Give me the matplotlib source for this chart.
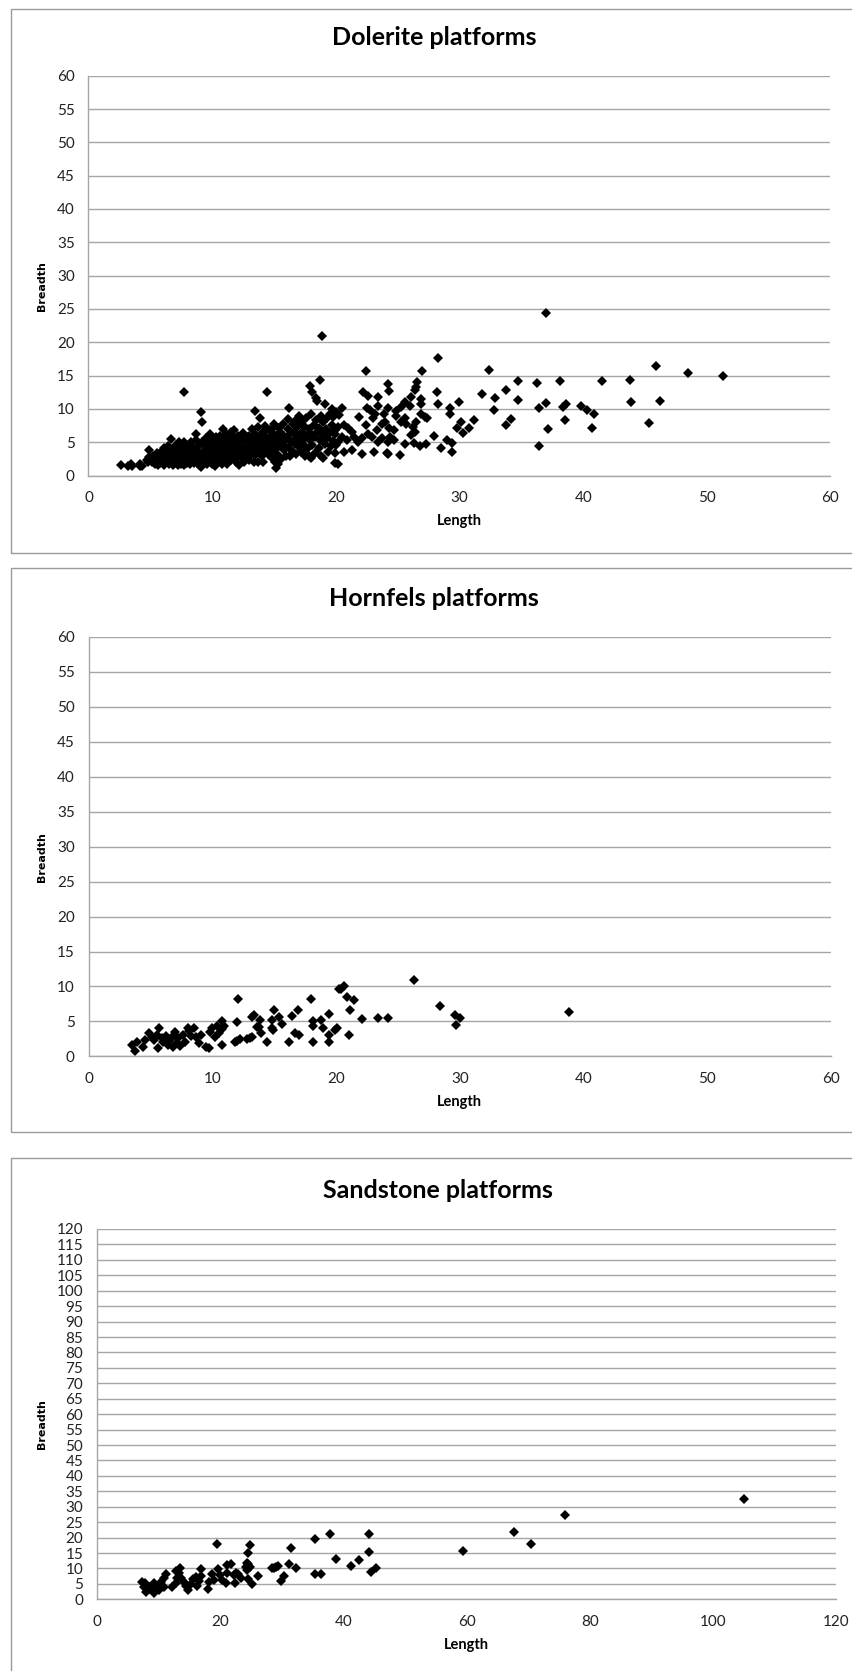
import matplotlib
matplotlib.use("Agg")
import matplotlib.pyplot as plt
from matplotlib.patches import Rectangle

# (length, breadth) pairs
dolerite_points = [
    # sparse left tail
    (2.6, 1.6), (3.2, 1.5), (3.4, 1.7), (3.5, 1.4), (4.2, 1.7), (4.3, 1.4), (4.2, 1.5),
    (4.8, 2.1), (4.9, 3.8), (5.0, 2.4), (4.9, 2.8), (4.7, 2.3),
    # dense cluster 5-20
    (5.1, 2.0), (5.2, 3.0), (5.3, 2.5), (5.4, 1.8), (5.5, 3.4), (5.6, 2.2), (5.7, 2.9),
    (5.8, 1.9), (5.9, 3.6), (6.0, 2.6), (6.1, 4.2), (5.6, 1.6), (5.9, 2.3),
    (6.1, 1.6), (6.2, 2.8), (6.3, 3.3), (6.3, 2.0), (6.4, 4.5), (6.5, 2.4), (6.5, 1.7),
    (6.6, 3.0), (6.7, 5.5), (6.7, 3.8), (6.8, 2.1), (6.8, 1.6), (6.9, 2.7), (6.9, 4.0),
    (7.0, 3.3), (7.0, 1.9), (6.6, 2.5),
    (7.1, 2.4), (7.1, 4.6), (7.2, 1.6), (7.2, 3.0), (7.3, 5.1), (7.3, 2.0), (7.4, 3.6),
    (7.4, 2.7), (7.5, 1.8), (7.5, 4.2), (7.6, 2.3), (7.6, 3.1), (7.7, 5.0), (7.7, 1.6),
    (7.8, 2.8), (7.8, 3.9), (7.9, 2.1), (7.9, 4.6), (8.0, 3.3), (8.0, 1.9), (7.7, 12.5),
    (8.1, 2.6), (8.1, 4.0), (8.2, 1.7), (8.2, 3.5), (8.3, 2.9), (8.3, 5.0), (8.4, 2.2),
    (8.4, 4.4), (8.5, 3.1), (8.5, 1.9), (8.6, 3.8), (8.6, 2.5), (8.7, 5.3), (8.7, 6.2),
    (8.8, 2.8), (8.8, 4.1), (8.9, 1.6), (8.9, 3.4), (9.0, 2.3), (9.0, 4.7), (9.1, 9.5),
    (9.2, 8.0),
    (9.1, 3.0), (9.1, 1.3), (9.2, 5.1), (9.3, 2.0), (9.3, 3.7), (9.4, 4.4), (9.4, 2.6),
    (9.5, 5.6), (9.5, 3.2), (9.6, 1.8), (9.6, 4.0), (9.7, 2.9), (9.7, 5.0), (9.8, 3.5),
    (9.8, 6.2), (9.9, 2.3), (9.9, 4.3), (10.0, 1.7), (10.0, 3.0), (10.0, 5.4),
    (10.1, 3.8), (10.1, 2.4), (10.2, 4.6), (10.2, 1.5), (10.3, 3.2), (10.3, 5.8),
    (10.4, 2.7), (10.4, 4.1), (10.5, 3.5), (10.5, 2.0), (10.6, 5.0), (10.6, 6.0),
    (10.7, 2.9), (10.7, 4.4), (10.8, 3.7), (10.8, 1.7), (10.9, 7.0), (10.9, 5.3),
    (11.0, 3.0), (11.0, 4.0), (11.0, 2.3),
    (11.1, 4.8), (11.1, 6.3), (11.2, 3.4), (11.2, 1.8), (11.3, 2.7), (11.3, 5.5),
    (11.4, 4.2), (11.4, 3.1), (11.5, 6.6), (11.5, 2.3), (11.6, 4.9), (11.6, 3.7),
    (11.7, 5.8), (11.7, 2.9), (11.8, 4.4), (11.8, 6.8), (11.9, 3.3), (11.9, 2.0),
    (12.0, 5.2), (12.0, 4.0),
    (12.1, 3.0), (12.1, 6.0), (12.2, 1.6), (12.2, 4.6), (12.3, 3.6), (12.3, 5.5),
    (12.4, 2.6), (12.5, 4.2), (12.5, 6.4), (12.6, 3.2), (12.6, 2.1), (12.7, 5.0),
    (12.7, 4.0), (12.8, 3.5), (12.8, 5.8), (12.9, 2.8), (12.9, 4.5), (13.0, 3.9),
    (13.0, 6.0), (13.0, 2.3),
    (13.1, 5.0), (13.1, 3.3), (13.2, 4.3), (13.2, 7.0), (13.3, 3.8), (13.3, 5.6),
    (13.4, 4.9), (13.4, 2.0), (13.5, 9.7), (13.5, 3.1), (13.5, 6.3), (13.6, 4.4),
    (13.6, 5.2), (13.7, 2.1), (13.7, 7.3), (13.8, 3.6), (13.8, 4.8), (13.9, 8.7),
    (13.9, 6.0), (14.0, 4.2), (14.0, 5.5), (14.0, 3.0),
    (14.1, 6.6), (14.1, 2.0), (14.2, 4.6), (14.2, 3.6), (14.3, 5.9), (14.3, 7.4),
    (14.4, 12.6), (14.4, 4.0), (14.5, 5.2), (14.5, 3.2), (14.6, 6.8), (14.6, 4.6),
    (14.7, 3.8), (14.7, 5.6), (14.8, 2.6), (14.8, 7.0), (14.9, 4.3), (14.9, 6.2),
    (15.0, 5.0), (15.0, 3.5), (15.0, 7.8),
    (15.1, 2.1), (15.1, 6.0), (15.2, 1.2), (15.2, 4.0), (15.3, 5.5), (15.3, 1.7),
    (15.4, 7.1), (15.4, 3.0), (15.5, 4.6), (15.5, 6.5), (15.6, 2.5), (15.6, 5.2),
    (15.7, 7.8), (15.8, 3.8), (15.8, 6.0), (15.9, 4.5), (16.0, 5.5), (16.0, 3.0),
    (16.1, 7.0), (16.1, 8.5), (16.2, 10.2), (16.2, 4.2), (16.3, 6.2), (16.3, 2.9),
    (16.4, 5.0), (16.5, 7.8), (16.5, 3.6), (16.6, 6.6), (16.7, 4.7), (16.7, 8.2),
    (16.8, 5.6), (16.8, 3.2), (16.9, 7.3), (17.0, 4.3), (17.0, 6.0), (17.0, 9.0),
    (17.1, 5.1), (17.2, 8.0), (17.2, 3.6), (17.3, 6.5), (17.4, 4.6), (17.4, 7.4),
    (17.5, 5.6), (17.5, 2.9), (17.6, 8.6), (17.7, 6.0), (17.7, 4.0), (17.8, 7.0),
    (17.8, 3.0), (17.9, 5.3), (17.9, 13.4), (18.0, 6.3), (18.0, 9.2), (18.0, 2.6),
    (18.1, 12.6), (18.1, 4.6), (18.2, 7.6), (18.3, 5.8), (18.3, 3.4), (18.4, 11.6),
    (18.4, 8.4), (18.5, 11.2), (18.5, 6.6), (18.6, 4.2), (18.6, 7.2), (18.7, 14.3),
    (18.7, 5.4), (18.8, 9.0), (18.8, 3.0), (18.9, 21.0), (18.9, 6.2), (19.0, 8.0),
    (19.0, 2.6), (19.1, 10.7),
    (19.1, 4.8), (19.2, 7.0), (19.3, 5.6), (19.3, 8.6), (19.4, 3.6), (19.5, 9.3),
    (19.5, 6.4), (19.6, 4.4), (19.7, 7.6), (19.7, 10.0), (19.8, 5.2), (19.8, 8.8),
    (19.9, 3.4), (19.9, 6.8), (20.0, 9.6), (20.0, 4.6), (19.9, 1.9), (20.2, 1.8),
    # 20-30
    (20.5, 10.2), (20.25, 9.1), (22.5, 10.2), (22.8, 9.8), (23.4, 10.4), (24.2, 10.1),
    (24.9, 9.7), (25.6, 11.1), (26.1, 11.8), (26.0, 10.4), (25.3, 10.3), (21.9, 8.8),
    (22.4, 7.6), (23.0, 8.6), (23.2, 9.3), (23.9, 9.3), (23.7, 7.7), (24.0, 8.0),
    (24.3, 7.2), (24.7, 6.8), (24.9, 9.0), (25.3, 8.0), (25.6, 8.6), (25.7, 7.7),
    (26.2, 7.3), (26.4, 6.6), (26.1, 6.1), (26.5, 8.0), (27.2, 8.8), (27.4, 8.6),
    (26.9, 9.3), (20.2, 7.3), (20.7, 7.6), (21.0, 7.1), (21.3, 6.6), (20.5, 5.8),
    (20.9, 5.3), (21.5, 5.8), (21.8, 5.1), (22.1, 5.6), (22.6, 6.3), (22.9, 5.8),
    (23.3, 6.9), (23.4, 5.1), (23.7, 5.6), (24.2, 5.1), (24.4, 5.8), (24.7, 5.3),
    (19.9, 6.3), (20.2, 5.0), (20.7, 3.6), (21.3, 3.8), (22.1, 3.3), (23.1, 3.5),
    (24.1, 3.4), (24.2, 3.3), (25.2, 3.1), (25.6, 4.8), (26.3, 4.9), (26.8, 4.5),
    (27.3, 4.8), (28.5, 4.2), (29.4, 3.5), (29.4, 4.9), (29.0, 5.4), (27.9, 5.9),
    (22.4, 15.7), (27.0, 15.7), (28.3, 17.7), (24.2, 13.8), (24.3, 12.7), (22.2, 12.5),
    (22.6, 11.9), (23.4, 11.8), (26.6, 14.1), (26.5, 13.3), (26.4, 12.9), (28.2, 12.6),
    (28.3, 10.7), (26.9, 11.5), (26.85, 10.8), (29.2, 10.2), (29.2, 9.3),
    (30.0, 11.1), (30.1, 8.0), (29.8, 7.2), (30.8, 7.2), (30.3, 6.4), (31.2, 8.4),
    # long tail
    (32.4, 15.8), (34.7, 14.2), (31.8, 12.3), (32.9, 11.7), (33.75, 12.9), (34.7, 11.4),
    (32.8, 9.8), (34.2, 8.5), (33.8, 7.6), (37.0, 24.4), (36.3, 13.9), (38.1, 14.2),
    (41.5, 14.2), (43.75, 14.3), (45.85, 16.4), (48.5, 15.4), (51.3, 14.9), (36.4, 10.2),
    (37.0, 10.9), (38.4, 10.3), (38.6, 10.7), (39.8, 10.4), (40.3, 9.8), (40.9, 9.2),
    (38.5, 8.4), (37.15, 7.0), (40.7, 7.2), (43.9, 11.1), (46.2, 11.2), (45.3, 7.9),
    (36.4, 4.4),
]

hornfels_points = [
    (3.74, 0.8), (3.5, 1.6), (3.9, 2.0), (4.4, 1.4), (4.55, 2.4), (4.9, 3.3), (5.1, 2.8),
    (5.3, 2.3), (5.5, 3.1), (5.7, 4.0), (5.6, 1.2), (5.9, 2.6), (6.0, 2.0), (6.25, 2.9),
    (6.4, 1.6), (6.6, 2.3), (6.8, 1.3), (6.9, 3.1), (7.0, 3.5), (7.1, 1.9), (7.25, 2.6),
    (7.4, 1.5), (7.6, 3.1), (7.8, 2.1), (8.0, 4.0), (8.1, 3.6), (8.3, 2.9), (8.5, 4.0),
    (8.7, 2.8), (8.9, 1.9), (9.1, 3.1), (9.5, 1.4), (9.7, 1.25), (9.8, 3.5), (10.0, 4.0),
    (10.2, 2.8), (10.4, 4.35), (10.5, 3.3), (10.75, 5.1), (10.8, 3.9), (10.75, 1.7),
    (10.9, 4.35), (12.1, 8.2), (12.0, 4.9), (11.8, 2.1), (12.0, 2.25), (12.2, 2.5),
    (12.8, 2.5), (13.0, 2.7), (13.2, 2.8), (13.2, 5.7), (13.4, 5.9), (13.6, 4.25),
    (13.85, 5.2), (13.9, 3.3), (13.8, 4.2), (14.4, 2.0), (14.8, 5.2), (14.8, 4.0),
    (14.9, 3.8), (15.0, 6.7), (15.4, 5.6), (15.6, 4.7), (16.2, 2.0), (16.4, 5.8),
    (16.7, 3.4), (16.9, 6.7), (17.0, 3.1), (18.0, 8.2), (18.1, 5.1), (18.1, 4.35),
    (18.1, 2.0), (18.8, 5.2), (18.9, 4.1), (19.45, 6.1), (19.45, 3.1), (19.45, 2.0),
    (19.9, 3.8), (20.05, 4.0), (20.2, 9.6), (20.4, 9.7), (20.6, 10.0), (20.9, 8.45),
    (21.45, 8.1), (21.1, 6.6), (21.0, 3.1), (22.1, 5.3), (23.35, 5.5), (24.2, 5.5),
    (26.3, 10.9), (28.4, 7.15), (29.6, 5.9), (30.0, 5.55), (29.7, 4.5), (38.8, 6.4),
]

sandstone_points = [
    (105.0, 32.65), (76.0, 27.2), (67.6, 21.8), (70.4, 17.8), (59.4, 15.5), (44.2, 21.1),
    (44.2, 15.2), (44.5, 8.8), (45.2, 10.1), (42.5, 12.7), (41.3, 10.9), (38.75, 13.0),
    (37.8, 21.1), (35.3, 19.4), (35.4, 8.1), (36.4, 8.1), (31.5, 16.5), (31.1, 11.3),
    (32.3, 10.1), (28.4, 10.3), (29.0, 10.6), (29.4, 10.8), (28.7, 10.0), (30.4, 7.65),
    (29.8, 5.9), (26.2, 7.5), (24.9, 17.6), (24.5, 14.9), (24.4, 11.85), (24.5, 11.4),
    (24.8, 10.6), (24.2, 10.6), (24.4, 9.5), (24.5, 6.6), (25.2, 5.0), (19.5, 17.9),
    (19.7, 9.9), (21.1, 11.1), (21.7, 11.4), (21.1, 8.6), (20.9, 5.2), (22.2, 7.9),
    (22.6, 8.6), (22.9, 8.1), (22.4, 5.4), (23.3, 6.8), (20.3, 6.25), (19.9, 7.9),
    (19.0, 6.25), (18.6, 8.2), (18.0, 3.3), (18.2, 5.7), (16.8, 9.7), (16.8, 7.5),
    (16.6, 5.9), (16.3, 4.3), (16.0, 7.3), (15.5, 6.5), (15.2, 5.0), (14.5, 4.4),
    (14.1, 5.7), (14.7, 3.0), (13.7, 6.8), (13.55, 10.3), (13.3, 8.4), (12.9, 9.2),
    (13.05, 6.8), (12.9, 5.4), (12.2, 4.1), (11.2, 8.2), (10.8, 6.8), (10.4, 5.7),
    (10.8, 4.1), (10.0, 3.0), (10.0, 4.1), (9.2, 5.2), (9.2, 3.2), (8.6, 4.1),
    (8.0, 2.5), (7.6, 4.1), (7.3, 5.5), (7.8, 5.2), (8.6, 3.2), (9.2, 2.2),
]

panels = [
    # title, points, x ticks, y ticks, plot area (x0, y0, x1, y1) px, frame (x, top, bottom) px
    ("Dolerite platforms", dolerite_points, range(0, 61, 10), range(0, 61, 5),
     (88.5, 75.7, 830.5, 475.5), (11, 9, 553), 434),
    ("Hornfels platforms", hornfels_points, range(0, 61, 10), range(0, 61, 5),
     (88.7, 636.8, 831.0, 1056.4), (11, 568, 1132), 434),
    ("Sandstone platforms", sandstone_points, range(0, 121, 20), range(0, 121, 5),
     (97.0, 1229.0, 836.4, 1599.3), (11, 1158, 1700), 438),
]

W, H = 853, 1671
FONT = ["Lato", "DejaVu Sans"]
GRID = "#a6a6a6"

fig = plt.figure(figsize=(W / 100, H / 100), dpi=100)

for title, pts, xt, yt, (x0, y0, x1, y1), (bx, by0, by1), tx in panels:
    # light grey frame around each chart
    fig.patches.append(Rectangle((bx / W, 1 - by1 / H), (W + 20 - bx) / W, (by1 - by0) / H,
                                 transform=fig.transFigure, fill=False,
                                 edgecolor="#9a9a9a", linewidth=1.0))

    ax = fig.add_axes([x0 / W, 1 - y1 / H, (x1 - x0) / W, (y1 - y0) / H])
    xs = [p[0] for p in pts]
    ys = [p[1] for p in pts]
    ax.plot(xs, ys, "D", color="black", markersize=4.6, markeredgewidth=0, clip_on=False)

    ax.set_xlim(xt[0], xt[-1])
    ax.set_ylim(yt[0], yt[-1])
    ax.set_xticks(list(xt))
    ax.set_yticks(list(yt))
    ax.yaxis.grid(True, color=GRID, linewidth=1.0)
    ax.set_axisbelow(True)
    for side in ("top", "right"):
        ax.spines[side].set_visible(False)
    for side in ("left", "bottom"):
        ax.spines[side].set_color(GRID)
        ax.spines[side].set_linewidth(1.0)
    ax.tick_params(axis="both", length=0, labelsize=11, labelcolor="#222222")
    ax.tick_params(axis="y", pad=10)
    ax.tick_params(axis="x", pad=11)
    for lab in ax.get_xticklabels() + ax.get_yticklabels():
        lab.set_family(FONT)

    cx = (x0 + x1) / 2
    fig.text(tx / W, 1 - (y0 - 38) / H, title,
             ha="center", va="center", fontsize=18, fontweight="bold", family=FONT)
    fig.text(cx / W, 1 - (y1 + 46) / H, "Length", ha="center", va="center",
             fontsize=10.5, fontweight="bold", family=FONT)
    fig.text(42 / W, 1 - ((y0 + y1) / 2 + 10) / H, "Breadth", ha="center", va="center",
             rotation=90, fontsize=8, fontweight="bold", family="DejaVu Sans")

fig.savefig("out.png", dpi=100)
